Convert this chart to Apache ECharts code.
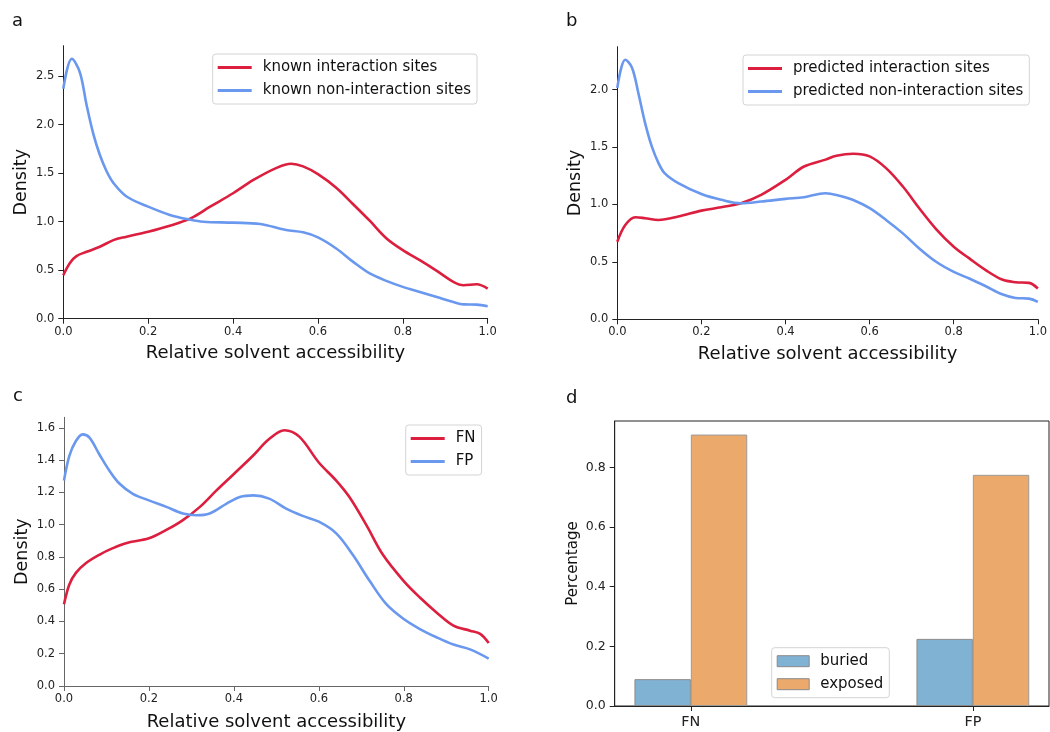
<!DOCTYPE html>
<html><head><meta charset="utf-8">
<script src="https://cdn.jsdelivr.net/npm/echarts@6/dist/echarts.min.js"></script>
<style>html,body{margin:0;padding:0;background:#fff}#c{width:1050px;height:732px}</style>
</head><body><div id="c"></div>
<script>
// ---------- data ----------
const xTicks = [0, 0.2, 0.4, 0.6, 0.8, 1.0];
const yTicksA = [0, 0.5, 1.0, 1.5, 2.0, 2.5];
const yTicksB = [0, 0.5, 1.0, 1.5, 2.0];
const yTicksC = [0, 0.2, 0.4, 0.6, 0.8, 1.0, 1.2, 1.4, 1.6];
const yTicksD = [0, 0.2, 0.4, 0.6, 0.8];

const namesA = ['known interaction sites', 'known non-interaction sites'];
const namesB = ['predicted interaction sites', 'predicted non-interaction sites'];
const namesC = ['FN', 'FP'];

const aRedX = [0,0.016,0.031,0.055,0.086,0.118,0.149,0.2,0.251,0.3,0.346,0.4,0.448,0.5,0.537,0.565,0.6,0.643,0.683,0.722,0.761,0.8,0.84,0.88,0.919,0.943,0.974,1.0];
const aRedY = [0.448,0.576,0.645,0.69,0.741,0.81,0.845,0.897,0.959,1.034,1.155,1.293,1.43,1.55,1.597,1.57,1.49,1.35,1.18,1.01,0.83,0.707,0.603,0.493,0.38,0.345,0.355,0.31];
const aBlueX = [0,0.02,0.039,0.055,0.071,0.086,0.102,0.118,0.149,0.2,0.251,0.3,0.33,0.4,0.464,0.525,0.565,0.6,0.643,0.683,0.722,0.761,0.8,0.84,0.88,0.919,0.943,0.974,1.0];
const aBlueY = [2.37,2.68,2.54,2.2,1.9,1.69,1.52,1.4,1.26,1.155,1.07,1.02,1.0,0.99,0.976,0.914,0.89,0.838,0.724,0.586,0.466,0.39,0.328,0.276,0.224,0.172,0.148,0.145,0.128];

const bRedX = [0,0.019,0.043,0.066,0.098,0.145,0.2,0.247,0.294,0.342,0.4,0.444,0.495,0.521,0.561,0.6,0.639,0.679,0.718,0.758,0.8,0.837,0.876,0.915,0.947,0.979,1.0];
const bRedY = [0.675,0.82,0.888,0.88,0.865,0.894,0.946,0.975,1.01,1.083,1.214,1.33,1.39,1.424,1.441,1.418,1.316,1.156,0.967,0.786,0.632,0.53,0.428,0.346,0.323,0.317,0.268];
const bBlueX = [0,0.019,0.035,0.05,0.066,0.082,0.098,0.113,0.145,0.2,0.247,0.294,0.342,0.4,0.444,0.495,0.521,0.561,0.6,0.639,0.679,0.718,0.758,0.8,0.837,0.876,0.915,0.947,0.979,1.0];
const bBlueY = [2.015,2.26,2.19,1.97,1.71,1.505,1.36,1.27,1.185,1.09,1.04,1.01,1.025,1.048,1.063,1.097,1.083,1.039,0.967,0.865,0.748,0.617,0.501,0.413,0.355,0.288,0.218,0.186,0.18,0.151];

const cRedX = [0,0.0126,0.028,0.052,0.083,0.115,0.146,0.2,0.241,0.28,0.32,0.359,0.4,0.446,0.483,0.519,0.554,0.6,0.641,0.672,0.712,0.751,0.8,0.838,0.877,0.917,0.956,0.98,1.0];
const cRedY = [0.507,0.629,0.701,0.762,0.813,0.854,0.885,0.915,0.967,1.028,1.11,1.212,1.314,1.43,1.53,1.585,1.545,1.385,1.273,1.171,0.997,0.813,0.65,0.548,0.456,0.374,0.343,0.323,0.266];
const cBlueX = [0,0.0126,0.028,0.044,0.06,0.083,0.107,0.131,0.162,0.2,0.241,0.28,0.312,0.343,0.383,0.414,0.446,0.483,0.523,0.562,0.6,0.641,0.68,0.72,0.759,0.8,0.838,0.877,0.917,0.956,1.0];
const cBlueY = [1.273,1.426,1.518,1.559,1.539,1.436,1.334,1.253,1.191,1.15,1.11,1.069,1.058,1.069,1.13,1.171,1.181,1.161,1.099,1.054,1.018,0.946,0.813,0.65,0.507,0.415,0.353,0.302,0.257,0.227,0.17];

const dCategories = ['FN', 'FP'];
const dBuried = [0.09, 0.225];
const dExposed = [0.91, 0.775];
const dNames = ['buried', 'exposed'];

// ---------- styles ----------
const FONT = 'DejaVu Sans';
const RED = '#DC1E3F';
const BLUE = '#6A98EE';
const BAR_BLUE = '#80B2D4';
const BAR_ORANGE = '#EBA96B';

const pairs = (xs, ys) => xs.map((x, i) => [x, ys[i]]);

function xAxisLine(gi, col, gap) {
  return {
    type: 'value', gridIndex: gi, min: 0, max: 1,
    name: 'Relative solvent accessibility', nameLocation: 'middle', nameGap: gap,
    nameTextStyle: {fontFamily: FONT, fontSize: 18, color: '#111'},
    axisLine: {show: true, onZero: false, lineStyle: {color: col, width: 1}},
    axisTick: {show: true, length: 5, lineStyle: {color: col}, customValues: xTicks},
    axisLabel: {fontFamily: FONT, fontSize: 11.5, color: '#222', margin: 7,
      customValues: xTicks, formatter: v => v.toFixed(1)},
    splitLine: {show: false}
  };
}
function yAxisLine(gi, col, max, ticks) {
  return {
    type: 'value', gridIndex: gi, min: 0, max: max,
    name: 'Density', nameLocation: 'middle', nameGap: 33,
    nameTextStyle: {fontFamily: FONT, fontSize: 17.5, color: '#111'},
    axisLine: {show: true, onZero: false, lineStyle: {color: col, width: 1}},
    axisTick: {show: true, length: 5, lineStyle: {color: col}, customValues: ticks},
    axisLabel: {fontFamily: FONT, fontSize: 11.5, color: '#222', margin: 9,
      customValues: ticks, formatter: v => v.toFixed(1)},
    splitLine: {show: false}
  };
}
function lineSeries(name, data, color, gi) {
  return {
    type: 'line', name: name, data: data, xAxisIndex: gi, yAxisIndex: gi,
    showSymbol: false, symbol: 'none', smooth: 0.35, clip: true,
    lineStyle: {color: color, width: 2.6}, itemStyle: {color: color}
  };
}
function legendBox(names, left, top, isBar) {
  return {
    left: left, top: top, orient: 'vertical', data: names,
    backgroundColor: 'rgba(255,255,255,0.85)', borderColor: '#d4d4d4', borderWidth: 1,
    borderRadius: 3, padding: [6, 6, 6, 5], itemGap: 8,
    icon: 'rect',
    itemWidth: isBar ? 32 : 34, itemHeight: isBar ? 11 : 2.8,
    textStyle: {fontFamily: FONT, fontSize: 15, color: '#111', padding: [0, 0, 0, 6]},
    selectedMode: false
  };
}

const chart = echarts.init(document.getElementById('c'), null, {renderer: 'canvas'});
chart.setOption({
  animation: false,
  backgroundColor: '#fff',
  graphic: [
    {type: 'text', left: 12, top: 12, style: {text: 'a', font: '18px "DejaVu Sans"', fill: '#111'}},
    {type: 'text', left: 566, top: 12, style: {text: 'b', font: '18px "DejaVu Sans"', fill: '#111'}},
    {type: 'text', left: 13, top: 387, style: {text: 'c', font: '18px "DejaVu Sans"', fill: '#111'}},
    {type: 'text', left: 566, top: 389, style: {text: 'd', font: '18px "DejaVu Sans"', fill: '#111'}}
  ],
  grid: [
    {left: 63.3, top: 45.7, width: 424.4, height: 273},
    {left: 617.3, top: 46.7, width: 424.4, height: 272.6},
    {left: 64, top: 417.3, width: 424.7, height: 272.7},
    {left: 614.7, top: 421, width: 434.3, height: 285, show: true, borderColor: '#222', borderWidth: 1, backgroundColor: 'transparent'}
  ],
  legend: [
    legendBox(namesA, 212.7, 54),
    legendBox(namesB, 743, 55),
    legendBox(namesC, 405.7, 425),
    Object.assign(legendBox(dNames, 771.7, 647.7, true), {itemStyle: {borderColor: '#8a8a8a', borderWidth: 1}})
  ],
  xAxis: [
    xAxisLine(0, '#222', 26),
    xAxisLine(1, '#222', 26),
    xAxisLine(2, '#666', 27),
    {
      type: 'value', gridIndex: 3, min: -0.27, max: 1.27,
      axisLine: {show: true, onZero: false, lineStyle: {color: '#222', width: 1}},
      axisTick: {show: true, length: 5, lineStyle: {color: '#222'}, customValues: [0, 1]},
      axisLabel: {fontFamily: FONT, fontSize: 14.4, color: '#222', margin: 9,
        customValues: [0, 1], formatter: v => dCategories[Math.round(v)]},
      splitLine: {show: false}
    }
  ],
  yAxis: [
    yAxisLine(0, '#222', 2.814, yTicksA),
    yAxisLine(1, '#222', 2.373, yTicksB),
    yAxisLine(2, '#666', 1.665, yTicksC),
    {
      type: 'value', gridIndex: 3, min: 0, max: 0.9555,
      name: 'Percentage', nameLocation: 'middle', nameGap: 34,
      nameTextStyle: {fontFamily: FONT, fontSize: 15, color: '#111'},
      axisLine: {show: true, onZero: false, lineStyle: {color: '#222', width: 1}},
      axisTick: {show: true, length: 5, lineStyle: {color: '#222'}, customValues: yTicksD},
      axisLabel: {fontFamily: FONT, fontSize: 12.5, color: '#222', margin: 9,
        customValues: yTicksD, formatter: v => v.toFixed(1)},
      splitLine: {show: false}
    }
  ],
  series: [
    lineSeries(namesA[0], pairs(aRedX, aRedY), RED, 0),
    lineSeries(namesA[1], pairs(aBlueX, aBlueY), BLUE, 0),
    lineSeries(namesB[0], pairs(bRedX, bRedY), RED, 1),
    lineSeries(namesB[1], pairs(bBlueX, bBlueY), BLUE, 1),
    lineSeries(namesC[0], pairs(cRedX, cRedY), RED, 2),
    lineSeries(namesC[1], pairs(cBlueX, cBlueY), BLUE, 2),
    {
      type: 'bar', name: dNames[0], xAxisIndex: 3, yAxisIndex: 3,
      data: dCategories.map((c, i) => [i, dBuried[i]]),
      barWidth: 56.4, barGap: '0%',
      itemStyle: {color: BAR_BLUE, borderColor: '#8a8a8a', borderWidth: 1}
    },
    {
      type: 'bar', name: dNames[1], xAxisIndex: 3, yAxisIndex: 3,
      data: dCategories.map((c, i) => [i, dExposed[i]]),
      barWidth: 56.4, barGap: '0%',
      itemStyle: {color: BAR_ORANGE, borderColor: '#9a9a9a', borderWidth: 1}
    }
  ]
});
</script></body></html>
